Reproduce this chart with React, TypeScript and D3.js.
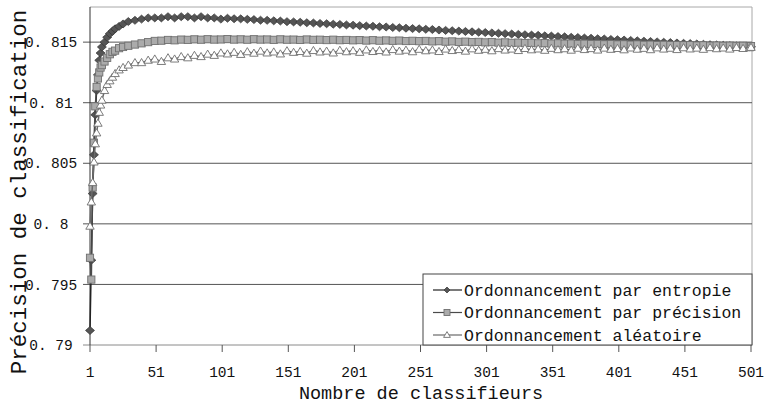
//@ts-nocheck
import * as d3 from "d3";

// nombre de classifieurs (points sampled along the x axis)
const classifieurs = [
  1, 2, 3, 4, 5, 6, 7, 8, 9, 10, 12, 14, 16, 18, 20, 23, 26, 30, 35, 40, 45, 50,
  55, 60, 65, 70, 75, 80, 85, 90, 95, 100, 105, 110, 115, 120, 125, 130, 135, 140,
  145, 150, 155, 160, 165, 170, 175, 180, 185, 190, 195, 200, 205, 210, 215, 220,
  225, 230, 235, 240, 245, 250, 255, 260, 265, 270, 275, 280, 285, 290, 295, 300,
  305, 310, 315, 320, 325, 330, 335, 340, 345, 350, 355, 360, 365, 370, 375, 380,
  385, 390, 395, 400, 405, 410, 415, 420, 425, 430, 435, 440, 445, 450, 455, 460,
  465, 470, 475, 480, 485, 490, 495, 500, 501,
];

const entropie = [
  0.7912, 0.797, 0.8025, 0.8057, 0.809, 0.811, 0.8123, 0.8135, 0.8141, 0.8146,
  0.815, 0.8154, 0.8157, 0.8159, 0.8161, 0.8163, 0.8165, 0.8167, 0.8168, 0.8169,
  0.817, 0.817,
  0.817, 0.8171, 0.817, 0.8171, 0.8171, 0.817, 0.8171, 0.817, 0.817, 0.8169,
  0.81697, 0.81693, 0.81692, 0.81688, 0.81686, 0.81681, 0.8168, 0.81676, 0.81674,
  0.81669, 0.81667, 0.81664, 0.8166, 0.81658, 0.81654, 0.81652, 0.81648, 0.81646,
  0.81642, 0.8164, 0.81636, 0.81633, 0.81631, 0.81627, 0.81625, 0.81621, 0.81619,
  0.81615, 0.81612, 0.8161, 0.81606, 0.81604, 0.816, 0.81597, 0.81594, 0.81591,
  0.81588, 0.81585, 0.81582, 0.81579, 0.81576, 0.81573, 0.8157, 0.81567, 0.81564,
  0.81561, 0.81558, 0.81556, 0.81552, 0.8155, 0.81546, 0.81544, 0.8154, 0.81538,
  0.81534, 0.81532, 0.81528, 0.81526, 0.81522, 0.8152, 0.81517, 0.81514, 0.81511,
  0.81508, 0.81505, 0.81502, 0.81499, 0.81496, 0.81493, 0.8149, 0.81488, 0.81485,
  0.81482, 0.81479, 0.81477, 0.81474, 0.81471, 0.81468, 0.81466, 0.81463, 0.81462,
];

const precision = [
  0.7972, 0.7954, 0.803, 0.8067, 0.8097, 0.8113, 0.812, 0.8125, 0.8129, 0.8131,
  0.8134, 0.8137, 0.814, 0.8142, 0.8143, 0.8145, 0.8146, 0.8147, 0.8148, 0.8149,
  0.815, 0.8151,
  0.81512, 0.81518, 0.81515, 0.81521, 0.81519, 0.81523, 0.8152, 0.81524, 0.81521,
  0.81522, 0.81525, 0.81521, 0.81523, 0.8152, 0.81524, 0.81521, 0.81522, 0.81519,
  0.81523, 0.8152, 0.81521, 0.81518, 0.81522, 0.81519, 0.8152, 0.81517, 0.8152,
  0.81516, 0.81518, 0.81515, 0.81517, 0.81513, 0.81516, 0.81512, 0.81514, 0.81511,
  0.81513, 0.81509, 0.81511, 0.81508, 0.8151, 0.81506, 0.81508, 0.81504, 0.81506,
  0.81502, 0.81504, 0.815, 0.81502, 0.81498, 0.815, 0.81496, 0.81498, 0.81494,
  0.81496, 0.81492, 0.81494, 0.8149, 0.81492, 0.81488, 0.8149, 0.81487, 0.81488,
  0.81485, 0.81487, 0.81484, 0.81485, 0.81482, 0.81484, 0.81481, 0.81482, 0.81479,
  0.81481, 0.81478, 0.81479, 0.81476, 0.81478, 0.81475, 0.81476, 0.81474, 0.81475,
  0.81472, 0.81474, 0.81471, 0.81472, 0.8147, 0.81471, 0.81469, 0.8147, 0.81468,
  0.81467,
];

const aleatoire = [
  0.7998, 0.8018, 0.8034, 0.8051, 0.8066, 0.8075, 0.8083, 0.8092, 0.8098, 0.8102,
  0.811, 0.8115, 0.8118, 0.8121, 0.8124, 0.8127, 0.8129, 0.8131, 0.8133, 0.8133,
  0.8135, 0.8136,
  0.8134, 0.8137, 0.8136, 0.8138, 0.8137, 0.8139, 0.8138, 0.814, 0.8139, 0.8141,
  0.81402, 0.81415, 0.81398, 0.8142, 0.81408, 0.81425, 0.8141, 0.81418, 0.81402,
  0.81428, 0.81415, 0.81422, 0.81408, 0.8143, 0.81418, 0.81425, 0.8141, 0.81432,
  0.8142, 0.81428, 0.81415, 0.81435, 0.81422, 0.8143, 0.81418, 0.81438, 0.81425,
  0.81433, 0.8142, 0.8144, 0.81428, 0.81435, 0.81422, 0.81442, 0.8143, 0.81438,
  0.81425, 0.81444, 0.81432, 0.8144, 0.81428, 0.81446, 0.81434, 0.81442, 0.8143,
  0.81447, 0.81436, 0.81443, 0.81432, 0.81448, 0.81437, 0.81445, 0.81433, 0.81449,
  0.81438, 0.81446, 0.81434, 0.8145, 0.8144, 0.81447, 0.81436, 0.81451, 0.81441,
  0.81448, 0.81437, 0.81452, 0.81442, 0.81449, 0.81438, 0.81453, 0.81443, 0.8145,
  0.8144, 0.81454, 0.81445, 0.81451, 0.81442, 0.81455, 0.81447, 0.81453, 0.81456,
];

const xTicks = [1, 51, 101, 151, 201, 251, 301, 351, 401, 451, 501];
const yTicks = [0.79, 0.795, 0.8, 0.805, 0.81, 0.815];
const legendLabels = [
  "Ordonnancement par entropie",
  "Ordonnancement par précision",
  "Ordonnancement aléatoire",
];

const mono = "'Liberation Mono', 'DejaVu Sans Mono', monospace";

function Marker({ kind, x, y, small }) {
  if (kind === 0) {
    const w = small ? 3 : 4.5;
    const h = small ? 3 : 4;
    return (
      <path
        d={`M${x},${y - h}L${x + w},${y}L${x},${y + h}L${x - w},${y}Z`}
        fill="#555"
        stroke="#333"
        strokeWidth={0.7}
      />
    );
  }
  if (kind === 1) {
    const s = small ? 3 : 3.6;
    return (
      <rect x={x - s} y={y - s} width={2 * s} height={2 * s} fill="#ababab" stroke="#707070" strokeWidth={0.9} />
    );
  }
  const s = small ? 3.4 : 4.2;
  return (
    <path
      d={`M${x},${y - s}L${x + s},${y + s * 0.7}L${x - s},${y + s * 0.7}Z`}
      fill="#ffffff"
      stroke="#6e6e6e"
      strokeWidth={0.9}
    />
  );
}

export default function App() {
  const width = 766;
  const height = 404;
  const left = 90;
  const right = 752;
  const top = 7;
  const bottom = 345;

  const x = d3.scaleLinear([1, 501], [left, right - 1]);
  const y = d3.scaleLinear([0.79, 0.8179], [bottom, top]);

  const series = [entropie, precision, aleatoire];
  const lineColors = ["#222222", "#4a4a4a", "#6a6a6a"];
  const line = d3
    .line()
    .x((d) => x(d[0]))
    .y((d) => y(d[1]));

  const fmt = (v) => d3.format(".3~f")(v).replace(".", ". ");

  return (
    <svg
      width={width}
      height={height}
      style={{ position: "absolute", left: 0, top: 0, background: "#fff" }}
    >
      {/* plot frame */}
      <line x1={left} x2={right} y1={top} y2={top} stroke="#a8a8a8" />
      <line x1={right} x2={right} y1={top} y2={bottom} stroke="#a8a8a8" />

      {/* gridlines + y ticks */}
      {yTicks.map((t) => (
        <g key={t}>
          <line x1={left - 7} x2={right} y1={y(t)} y2={y(t)} stroke={t === 0.79 ? "#8a8a8a" : "#555"} strokeWidth={1} />
          <text
            x={51}
            y={y(t)}
            dy="0.35em"
            textAnchor="middle"
            fontFamily={mono}
            fontSize={14.5}
            fill="#111"
          >
            {fmt(t)}
          </text>
        </g>
      ))}

      {/* x axis ticks */}
      {xTicks.map((t) => (
        <g key={t}>
          <line x1={x(t)} x2={x(t)} y1={bottom} y2={bottom + 7} stroke="#555" />
          <text
            x={x(t)}
            y={377}
            textAnchor="middle"
            fontFamily={mono}
            fontSize={14.5}
            fill="#111"
          >
            {t}
          </text>
        </g>
      ))}
      <line x1={left} x2={left} y1={top} y2={bottom} stroke="#333" />

      {/* series */}
      {series.map((vals, si) => {
        const pts = classifieurs.map((c, i) => [c, vals[i]]);
        return (
          <g key={si}>
            <path d={line(pts)} fill="none" stroke={lineColors[si]} strokeWidth={1.5} />
            {pts.map((p, i) => (
              <Marker key={i} kind={si} x={x(p[0])} y={y(p[1])} />
            ))}
          </g>
        );
      })}

      {/* legend */}
      <rect x={423} y={274} width={329} height={71} fill="#fff" stroke="#444" strokeWidth={1} />
      {legendLabels.map((lab, i) => {
        const ly = 290 + i * 22.5;
        return (
          <g key={lab}>
            <line x1={433} x2={462} y1={ly} y2={ly} stroke={lineColors[i]} strokeWidth={1.2} />
            <Marker kind={i} x={447} y={ly} small />
            <text x={464} y={ly} dy="0.35em" fontFamily={mono} fontSize={16.5} fill="#111">
              {lab}
            </text>
          </g>
        );
      })}

      {/* axis titles */}
      <text
        x={(left + right) / 2}
        y={399}
        textAnchor="middle"
        fontFamily={mono}
        fontSize={18.5}
        fill="#111"
      >
        Nombre de classifieurs
      </text>
      <text
        transform={`translate(26,${192}) rotate(-90)`}
        textAnchor="middle"
        fontFamily={mono}
        fontSize={22.5}
        fill="#111"
      >
        Précision de classification
      </text>
    </svg>
  );
}
